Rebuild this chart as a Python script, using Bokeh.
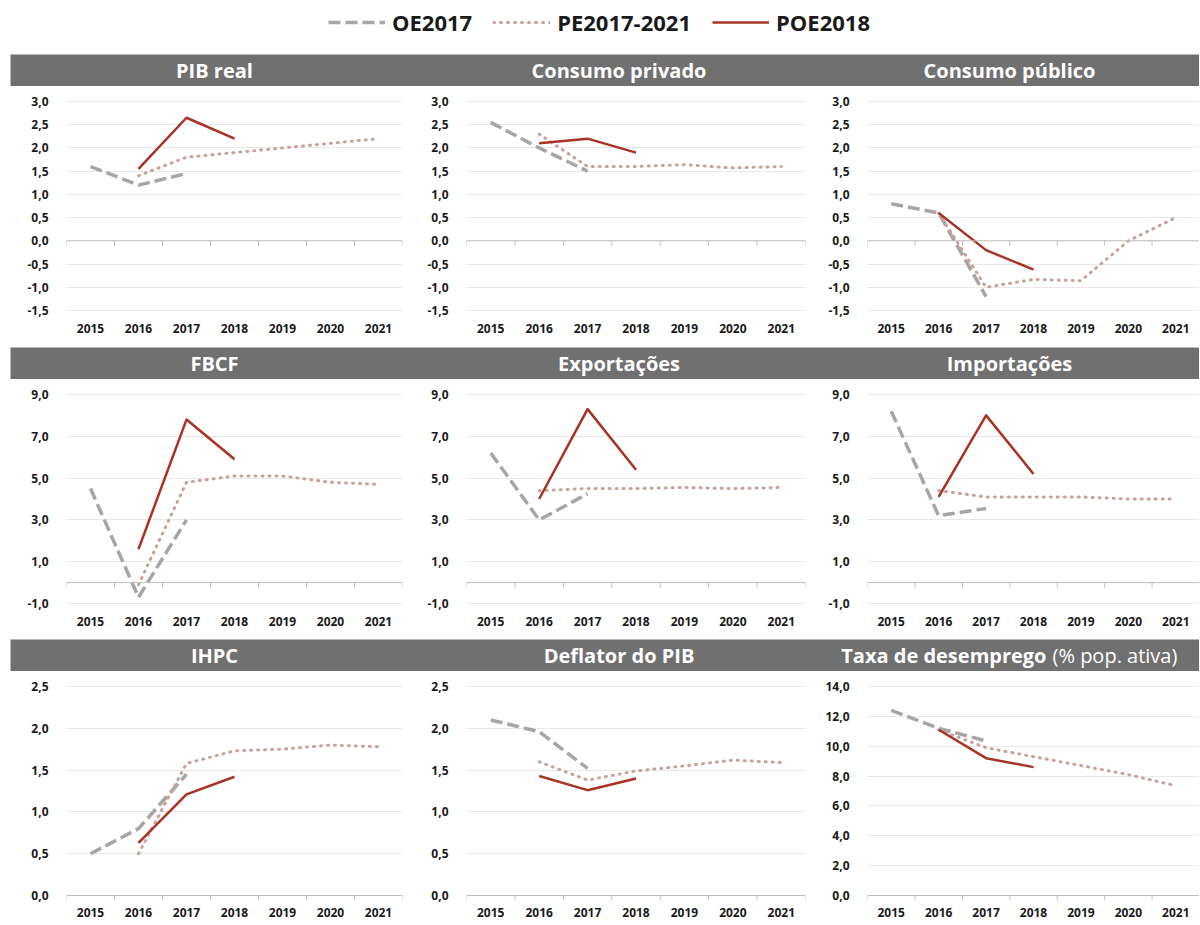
import math
from bokeh.plotting import figure
from bokeh.models import (Range1d, FixedTicker, CustomJSTickFormatter, Span, Label,
                          Legend, LegendItem, Spacer)
from bokeh.layouts import column, row
from bokeh.embed import file_html
from bokeh.resources import INLINE

# ---------------- data ----------------
years = [2015, 2016, 2017, 2018, 2019, 2020, 2021]
oe_years = [2015, 2016, 2017]
pe_years = [2016, 2017, 2018, 2019, 2020, 2021]
poe_years = [2016, 2017, 2018]

series_names = ["OE2017", "PE2017-2021", "POE2018"]

titles = ["PIB real", "Consumo privado", "Consumo público",
          "FBCF", "Exportações", "Importações",
          "IHPC", "Deflator do PIB", "Taxa de desemprego"]
title_suffix = "(% pop. ativa)"

pib_oe = [1.6, 1.2, 1.45]
pib_pe = [1.4, 1.8, 1.9, 2.0, 2.1, 2.2]
pib_poe = [1.55, 2.65, 2.2]

cpriv_oe = [2.55, 2.0, 1.5]
cpriv_pe = [2.3, 1.6, 1.6, 1.64, 1.57, 1.6]
cpriv_poe = [2.1, 2.2, 1.9]

cpub_oe = [0.8, 0.6, -1.2]
cpub_pe = [0.6, -1.0, -0.83, -0.86, 0.0, 0.5]
cpub_poe = [0.6, -0.2, -0.62]

fbcf_oe = [4.5, -0.7, 3.0]
fbcf_pe = [-0.1, 4.8, 5.1, 5.1, 4.8, 4.7]
fbcf_poe = [1.6, 7.8, 5.9]

exp_oe = [6.2, 3.0, 4.25]
exp_pe = [4.4, 4.5, 4.5, 4.55, 4.5, 4.55]
exp_poe = [4.0, 8.3, 5.4]

imp_oe = [8.2, 3.2, 3.55]
imp_pe = [4.4, 4.1, 4.1, 4.1, 4.0, 4.0]
imp_poe = [4.1, 8.0, 5.2]

ihpc_oe = [0.5, 0.8, 1.45]
ihpc_pe = [0.5, 1.58, 1.73, 1.75, 1.8, 1.78]
ihpc_poe = [0.63, 1.21, 1.42]

defl_oe = [2.1, 1.96, 1.52]
defl_pe = [1.6, 1.38, 1.49, 1.55, 1.62, 1.59]
defl_poe = [1.43, 1.26, 1.4]

desemp_oe = [12.4, 11.2, 10.35]
desemp_pe = [11.1, 9.9, 9.3, 8.7, 8.1, 7.35]
desemp_poe = [11.1, 9.2, 8.6]

ticks_row1 = [-1.5, -1.0, -0.5, 0.0, 0.5, 1.0, 1.5, 2.0, 2.5, 3.0]
ticks_row2 = [-1.0, 1.0, 3.0, 5.0, 7.0, 9.0]
ticks_row3 = [0.0, 0.5, 1.0, 1.5, 2.0, 2.5]
ticks_desemp = [0.0, 2.0, 4.0, 6.0, 8.0, 10.0, 12.0, 14.0]

# ---------------- styles ----------------
FONT = "Open Sans"
HDR = "#707070"
OE_COLOR = "#a6a6a6"
PE_COLOR = "#c9a09a"
POE_COLOR = "#a83224"
GRID = "#e8e8e8"
ZERO = "#bfbfbf"
TXT = "#1a1a1a"

LEFT_PAD = 10
PANEL_W = [408, 401, 380]
LEFT = [56, 48, 48]
RIGHT = [16, 14, 0]
SPAN_PX = 209
HDR_H = 32
ROW_W = sum(PANEL_W)


def style_line(p, xs, ys, kind):
    if kind == 0:
        return p.line(xs, ys, line_color=OE_COLOR, line_width=3.5, line_dash="12 5")
    if kind == 1:
        return p.line(xs, ys, line_color=PE_COLOR, line_width=3, line_dash="1 6",
                      line_cap="round")
    return p.line(xs, ys, line_color=POE_COLOR, line_width=2.5, line_join="round")


def make_header_row(row_titles, suffix_for_last=None):
    # one gray strip for the whole row; x in pixels along the strip
    h = figure(width=ROW_W, height=HDR_H, x_range=Range1d(0, ROW_W), y_range=Range1d(0, 1),
               output_backend="svg", toolbar_location=None, min_border=0,
               background_fill_color=HDR, border_fill_color=HDR, outline_line_color=None,
               x_axis_location=None, y_axis_location=None)
    h.grid.visible = False
    common = dict(y=0.5, text_baseline="middle", text_color="white",
                  text_font=FONT, text_font_size="20px")
    start = 0
    for c, t in enumerate(row_titles):
        w = PANEL_W[c]
        if c == 2 and suffix_for_last is not None:
            h.add_layout(Label(x=start + 227, text=t, text_align="right",
                               text_font_style="bold", **common))
            h.add_layout(Label(x=start + 233, text=suffix_for_last, text_align="left",
                               text_font_style="normal", **common))
        else:
            h.add_layout(Label(x=start + w / 2, text=t, text_align="center",
                               text_font_style="bold", **common))
        start += w
    return h


def make_chart(col, last_row, ticks, oe, pe, poe):
    w = PANEL_W[col]
    ylo, yhi = ticks[0], ticks[-1]
    u = (yhi - ylo) / SPAN_PX
    pad_top = 1
    pad_bot = 5 if last_row else 1
    top_b = 14
    bot_b = 25 if last_row else 34
    h = top_b + SPAN_PX + pad_top + pad_bot + bot_b
    p = figure(width=w, height=h,
               x_range=Range1d(years[0] - 0.5, years[-1] + 0.5),
               y_range=Range1d(ylo - pad_bot * u, yhi + pad_top * u),
               output_backend="svg", toolbar_location=None,
               min_border_left=LEFT[col], min_border_right=RIGHT[col],
               min_border_top=top_b, min_border_bottom=bot_b,
               outline_line_color=None, background_fill_color="white",
               border_fill_color="white")
    p.xaxis.ticker = FixedTicker(ticks=years)
    p.yaxis.ticker = FixedTicker(ticks=ticks)
    p.yaxis.formatter = CustomJSTickFormatter(code="return tick.toFixed(1).replace('.', ',');")
    for ax in (p.xaxis, p.yaxis):
        ax.axis_line_color = None
        ax.major_tick_line_color = None
        ax.minor_tick_line_color = None
        ax.major_label_text_font = FONT
        ax.major_label_text_font_style = "bold"
        ax.major_label_text_font_size = "12px"
        ax.major_label_text_color = TXT
    p.xaxis.major_label_standoff = 1 if last_row else 6
    p.yaxis.major_label_standoff = 12
    p.xgrid.grid_line_color = None
    p.ygrid.grid_line_color = GRID
    p.ygrid.grid_line_width = 1
    p.add_layout(Span(location=0, dimension="width", line_color=ZERO, line_width=1))
    bounds = [y - 0.5 for y in years] + [years[-1] + 0.5]
    p.ray(x=bounds, y=[0] * len(bounds), length=5, length_units="screen",
          angle=-math.pi / 2, line_color=ZERO, line_width=1)
    style_line(p, oe_years, oe, 0)
    style_line(p, pe_years, pe, 1)
    style_line(p, poe_years, poe, 2)
    return p


# ---------------- legend ----------------
TOTAL_W = LEFT_PAD + ROW_W
lf = figure(width=TOTAL_W, height=54, x_range=Range1d(0, 1), y_range=Range1d(0, 1),
            output_backend="svg", toolbar_location=None, min_border=0,
            outline_line_color=None, x_axis_location=None, y_axis_location=None)
lf.grid.visible = False
# renderers only used as legend samples (their data lies outside this strip's ranges)
lr = [style_line(lf, oe_years, pib_oe, 0),
      style_line(lf, pe_years, pib_pe, 1),
      style_line(lf, poe_years, pib_poe, 2)]
legend = Legend(items=[LegendItem(label=n, renderers=[r]) for n, r in zip(series_names, lr)],
                orientation="horizontal", location=(328, 17), padding=0, margin=0,
                border_line_color=None, background_fill_alpha=0,
                glyph_width=57, glyph_height=30, label_standoff=7, spacing=21,
                label_height=30, label_text_font=FONT, label_text_font_style="bold",
                label_text_font_size="22px", label_text_color=TXT)
lf.add_layout(legend, "center")

# ---------------- panels ----------------
panel_data = [
    (ticks_row1, pib_oe, pib_pe, pib_poe),
    (ticks_row1, cpriv_oe, cpriv_pe, cpriv_poe),
    (ticks_row1, cpub_oe, cpub_pe, cpub_poe),
    (ticks_row2, fbcf_oe, fbcf_pe, fbcf_poe),
    (ticks_row2, exp_oe, exp_pe, exp_poe),
    (ticks_row2, imp_oe, imp_pe, imp_poe),
    (ticks_row3, ihpc_oe, ihpc_pe, ihpc_poe),
    (ticks_row3, defl_oe, defl_pe, defl_poe),
    (ticks_desemp, desemp_oe, desemp_pe, desemp_poe),
]

blocks = [lf]
gaps = [2, 1, 0]
for r in range(3):
    hdr = make_header_row(titles[r * 3:r * 3 + 3], title_suffix if r == 2 else None)
    blocks.append(row(Spacer(width=LEFT_PAD), hdr))
    charts = [Spacer(width=LEFT_PAD)]
    for c in range(3):
        i = r * 3 + c
        ticks, oe, pe, poe = panel_data[i]
        charts.append(make_chart(c, r == 2, ticks, oe, pe, poe))
    blocks.append(row(*charts))
    if gaps[r]:
        blocks.append(Spacer(height=gaps[r]))

layout = column(*blocks)

open("out.html", "w").write(file_html(layout, INLINE))
